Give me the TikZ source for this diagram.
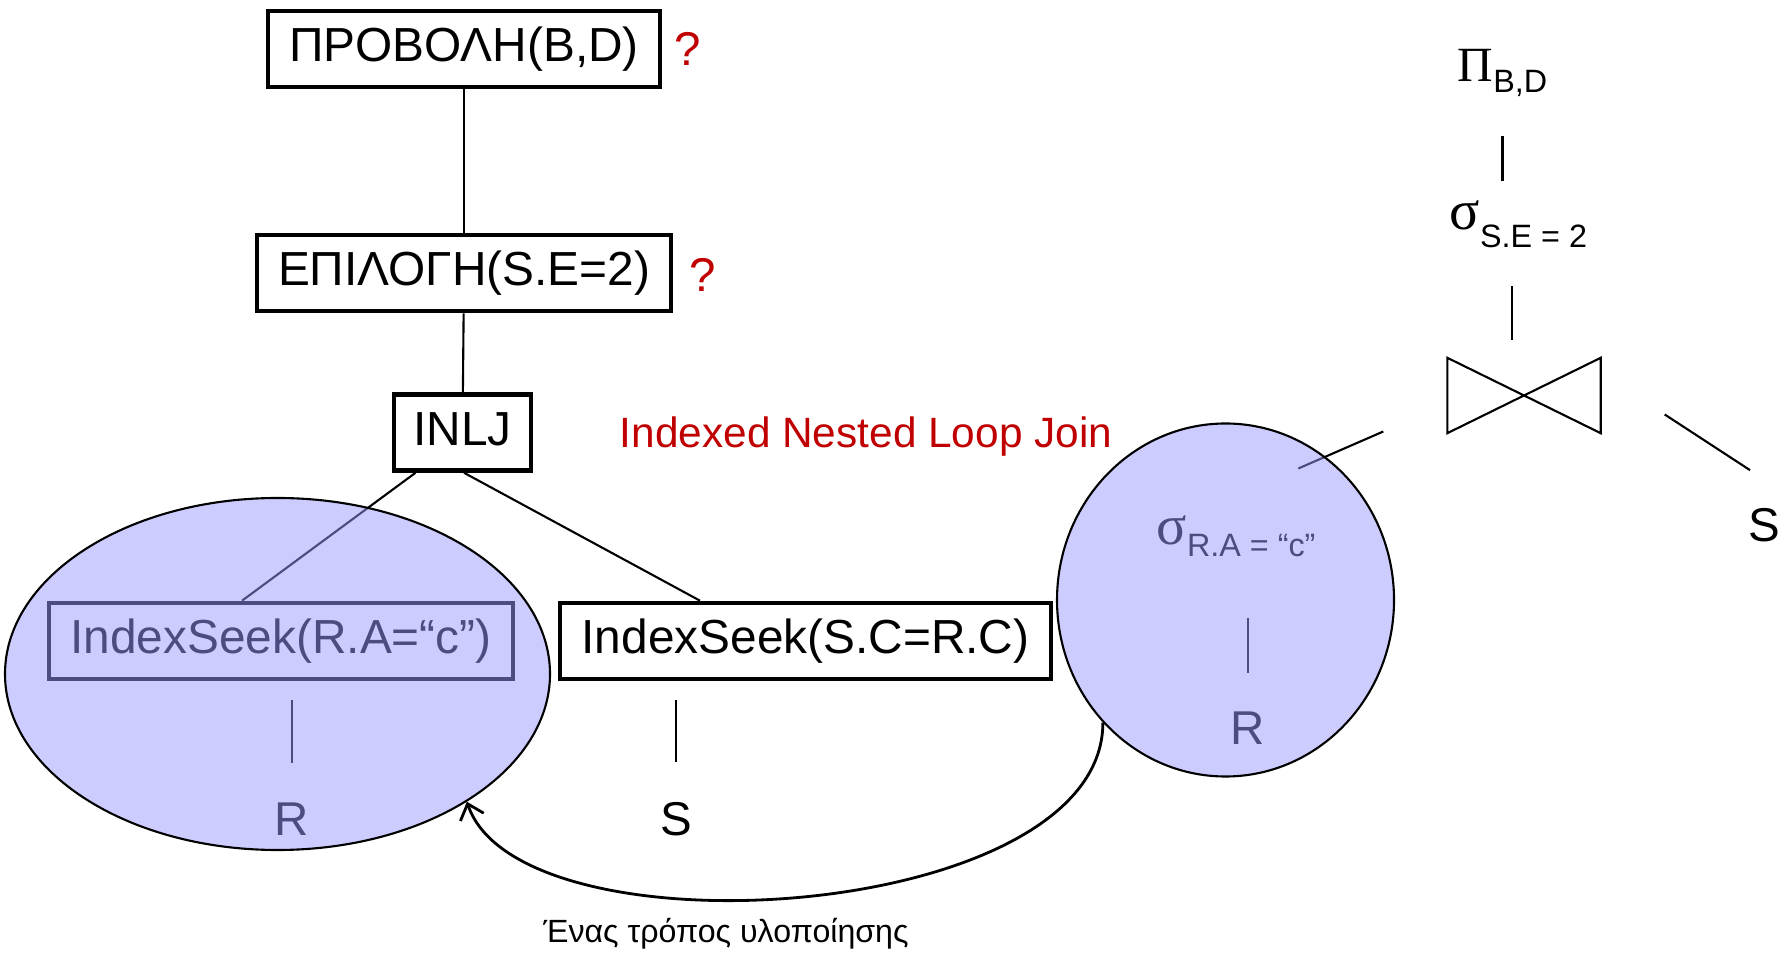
\documentclass[tikz,border=0pt]{standalone}
\usepackage{fontspec}
\setmainfont{Liberation Sans}
\newfontfamily\symserif{Liberation Serif}
\usetikzlibrary{shapes.geometric, arrows.meta}
\definecolor{darkred}{HTML}{C00000}
\definecolor{lavender}{HTML}{9999FF}
\newcommand{\idx}[2]{\raisebox{-#1}{\normalfont\fontsize{9.2}{11}\selectfont #2}}

\begin{document}
\begin{tikzpicture}[
  op/.style={rectangle,draw=black,line width=1.3pt,minimum height=0.76cm,inner sep=0pt, text height=0.716em,text depth=0pt,font=\fontsize{13.6}{16}\selectfont},
  rel/.style={anchor=base,inner sep=0pt,font=\fontsize{13.5}{16}\selectfont},
  ask/.style={anchor=base,inner sep=0pt,text=darkred,font=\fontsize{13.5}{16}\selectfont},
  alg/.style={anchor=base west,inner sep=0pt,font=\symserif\fontsize{14}{16}\selectfont},
  grp/.style={ellipse,draw=black,line width=0.6pt,fill=lavender,fill opacity=0.5,inner sep=0pt},
  ed/.style={line width=0.6pt},
  back/.style={-{Straight Barb[length=4pt,width=7pt]},line width=0.8pt},
  note/.style={anchor=base,inner sep=0pt,font=\fontsize{9.15}{11}\selectfont}
]
  \useasboundingbox (0,0) rectangle (17.85,-9.54);

  \node[op, minimum width=3.92cm] (proj)  at (4.64,-0.49)  {ΠΡΟΒΟΛΗ(B,D)};
  \node[ask]                      (q1)    at (6.88,-0.66)  {?};
  \node[op, minimum width=4.14cm] (sel)   at (4.64,-2.73)  {ΕΠΙΛΟΓΗ(S.E=2)};
  \node[ask]                      (q2)    at (7.03,-2.92)  {?};
  \node[op, minimum width=1.37cm] (inlj)  at (4.625,-4.325) {INLJ};
  \node[ask, font=\fontsize{12.06}{14}\selectfont] (inljname) at (8.66,-4.48) {Indexed Nested Loop Join};
  \node[op, minimum width=4.64cm] (lseek) at (2.81,-6.41)  {IndexSeek(R.A=“c”)};
  \node[op, minimum width=4.91cm] (rseek) at (8.055,-6.41) {IndexSeek(S.C=R.C)};
  \node[rel] (lR) at (2.92,-8.35)  {R};
  \node[rel] (mS) at (6.76,-8.35)  {S};

  \node[alg, font=\symserif\fontsize{16}{18}\selectfont] (sRA) at (11.56,-5.45) {σ\idx{0.12cm}{R.A = “c”}};
  \node[rel] (cR)  at (12.48,-7.45) {R};

  \node[alg] (pBD) at (14.57,-0.82) {Π\idx{0.11cm}{B,D}};
  \node[alg, font=\symserif\fontsize{16}{18}\selectfont] (sSE) at (14.49,-2.30) {σ\idx{0.18cm}{S.E = 2}};
  \node[minimum width=1.52cm, minimum height=0.74cm, inner sep=0pt] (join) at (15.24,-3.955) {};
  \node[rel] (rS) at (17.64,-5.42) {S};

  \draw[ed] (proj) -- (sel);
  \draw[ed] (sel) -- (inlj);
  \draw[ed] ([xshift=-0.47cm]inlj.south) -- ([xshift=-0.39cm]lseek.north);
  \draw[ed] ([xshift=0.015cm]inlj.south) -- ([xshift=-1.055cm]rseek.north);
  \draw[ed, shorten <=0.19cm, shorten >=0.39cm] (lseek.south -| lR.north) -- (lR.north);
  \draw[ed, shorten <=0.19cm, shorten >=0.39cm] (rseek.south -| mS.north) -- (mS.north);
  \draw[ed, shorten <=0.6cm, shorten >=0.39cm] (sRA.south -| cR.north) -- (cR.north);

  \draw[ed, shorten <=0.38cm, shorten >=0.2cm] (pBD.south) -- (pBD.south |- sSE.north);
  \draw[ed, shorten <=0.37cm, shorten >=0.18cm] ([xshift=-0.06cm]sSE.south) -- ([xshift=-0.06cm]sSE.south |- join.north);
  \draw[ed] (join.north west) -- (join.south west) -- (join.north east) -- (join.south east) -- cycle;
  \draw[ed] ([xshift=0.64cm,yshift=-0.19cm]join.east) -- ([xshift=-0.14cm,yshift=0.38cm]rS.north);
  \draw[ed] ([xshift=-0.64cm,yshift=-0.36cm]join.west) -- ++(-0.85,-0.37);

  \node[grp, minimum width=5.45cm, minimum height=3.52cm] (lE) at (2.775,-6.74) {};
  \node[grp, minimum width=3.37cm, minimum height=3.53cm] (cE) at (12.255,-6.0) {};

  \draw[back] (cE.225) .. controls +(0,-2.0) and +(0.53,-1.58) .. (lE.-34);
  \node[note] (how) at (7.26,-9.42) {Ένας τρόπος υλοποίησης};
\end{tikzpicture}
\end{document}
